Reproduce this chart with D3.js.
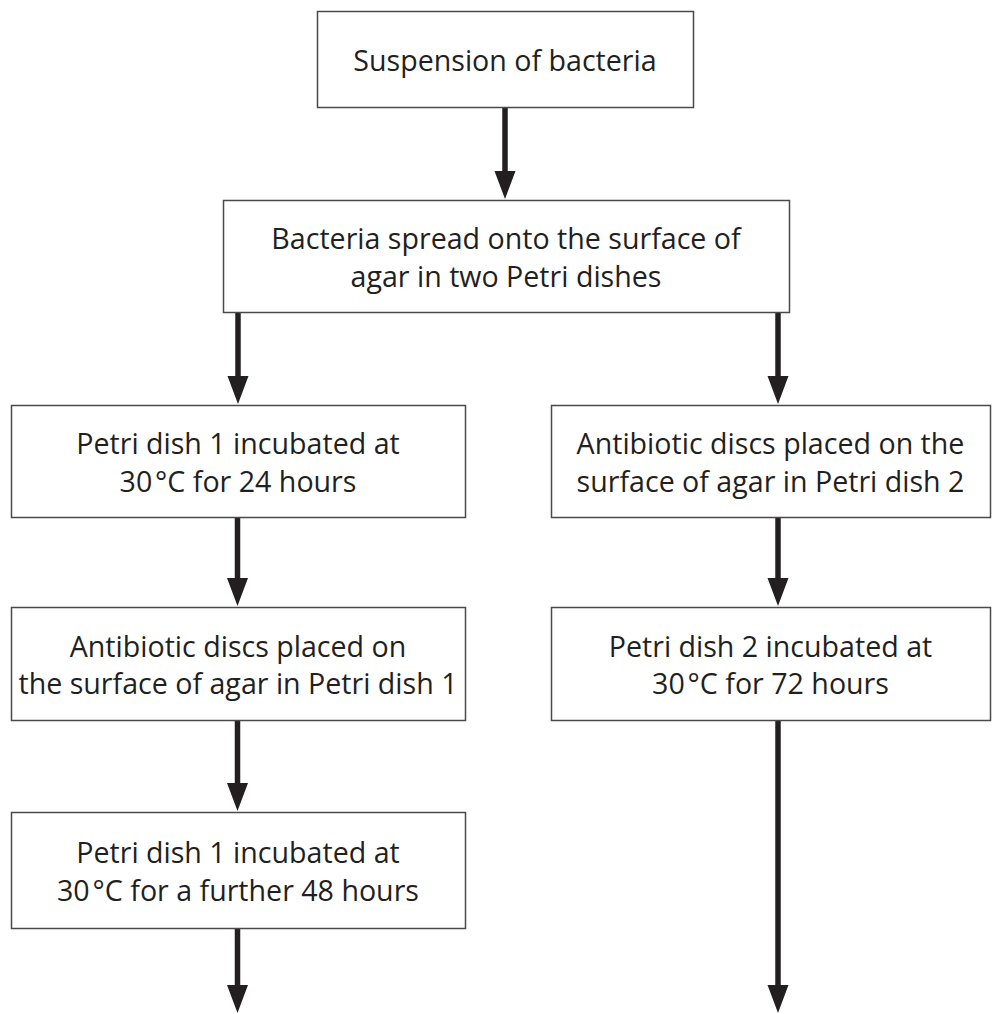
<!DOCTYPE html>
<html><head><meta charset="utf-8">
<script src="https://cdn.jsdelivr.net/npm/d3@7"></script>
<style>html,body{margin:0;padding:0;background:#fff;}</style>
</head><body>
<svg id="chart" width="992" height="1014"></svg>
<script>
// Flowchart content
const stepIds = ["suspension", "spread", "dish1inc", "dish2discs", "dish1discs", "dish2inc", "dish1further"];
const stepLines = [
  ["Suspension of bacteria"],
  ["Bacteria spread onto the surface of", "agar in two Petri dishes"],
  ["Petri dish 1 incubated at", "30\u200A°C for 24 hours"],
  ["Antibiotic discs placed on the", "surface of agar in Petri dish 2"],
  ["Antibiotic discs placed on", "the surface of agar in Petri dish 1"],
  ["Petri dish 2 incubated at", "30\u200A°C for 72 hours"],
  ["Petri dish 1 incubated at", "30\u200A°C for a further 48 hours"]
];
const stepColumn = ["top", "middle", "left", "right", "left", "right", "left"];
const stepRow = [0, 1, 2, 2, 3, 3, 4];
// arrows: from step -> to step (null = open end at bottom)
const arrowFrom = ["suspension", "spread", "spread", "dish1inc", "dish2discs", "dish1discs", "dish1further", "dish2inc"];
const arrowTo = ["spread", "dish1inc", "dish2discs", "dish1discs", "dish2inc", "dish1further", null, null];

// Layout (not data)
const W = 992, H = 1014;
const svg = d3.select("#chart");
const colX = d3.scaleOrdinal().domain(["top", "middle", "left", "right"])
  .range([[317, 693], [223, 789], [11, 465], [551, 990]]);
const rowY = d3.scaleOrdinal().domain([0, 1, 2, 3, 4])
  .range([[11, 107], [200, 312], [405, 517], [607, 720], [812, 928]]);
const arrowX = d3.scaleOrdinal().domain(["top", "middle-left", "middle-right", "left", "right"])
  .range([505, 238, 778, 237.5, 778]);

const steps = stepIds.map((id, i) => ({ id, lines: stepLines[i], col: stepColumn[i], row: stepRow[i] }));
const byId = new Map(steps.map(s => [s.id, s]));

const ink = "#231f20";
const fontSize = 28.6;
const lineH = 37.5;

// arrows
const arrows = arrowFrom.map((f, i) => {
  const a = byId.get(f), b = arrowTo[i] ? byId.get(arrowTo[i]) : null;
  let key;
  if (a.col === "middle") key = (b.col === "left") ? "middle-left" : "middle-right";
  else key = a.col;
  const x = arrowX(key);
  const y0 = rowY(a.row)[1];
  const y1 = b ? rowY(b.row)[0] - 1 : H - 1;
  return { x, y0, y1 };
});
const headH = 28, headW = 10.5;
const ag = svg.append("g");
ag.selectAll("line").data(arrows).join("line")
  .attr("x1", d => d.x).attr("x2", d => d.x)
  .attr("y1", d => d.y0).attr("y2", d => d.y1 - headH + 2)
  .attr("stroke", ink).attr("stroke-width", 5.5);
ag.selectAll("path").data(arrows).join("path")
  .attr("d", d => `M${d.x - headW},${d.y1 - headH} L${d.x + headW},${d.y1 - headH} L${d.x},${d.y1} Z`)
  .attr("fill", ink);

// boxes
const bg = svg.append("g").selectAll("g").data(steps).join("g");
bg.append("rect")
  .attr("x", d => colX(d.col)[0] + 0.5)
  .attr("y", d => rowY(d.row)[0] + 0.5)
  .attr("width", d => colX(d.col)[1] - colX(d.col)[0])
  .attr("height", d => rowY(d.row)[1] - rowY(d.row)[0])
  .attr("fill", "#fff").attr("stroke", "#4a4a4a").attr("stroke-width", 1.5);
bg.each(function (d) {
  const cx = (colX(d.col)[0] + colX(d.col)[1]) / 2;
  const cy = (rowY(d.row)[0] + rowY(d.row)[1]) / 2;
  const n = d.lines.length;
  const t = d3.select(this).append("text")
    .attr("text-anchor", "middle")
    .attr("font-family", "'Open Sans', 'Noto Sans', sans-serif")
    .attr("font-size", fontSize)
    .attr("fill", ink);
  d.lines.forEach((ln, j) => {
    t.append("tspan").attr("x", cx)
      .attr("y", cy + (j - (n - 1) / 2) * lineH + 12)
      .text(ln);
  });
});
</script>
</body></html>
